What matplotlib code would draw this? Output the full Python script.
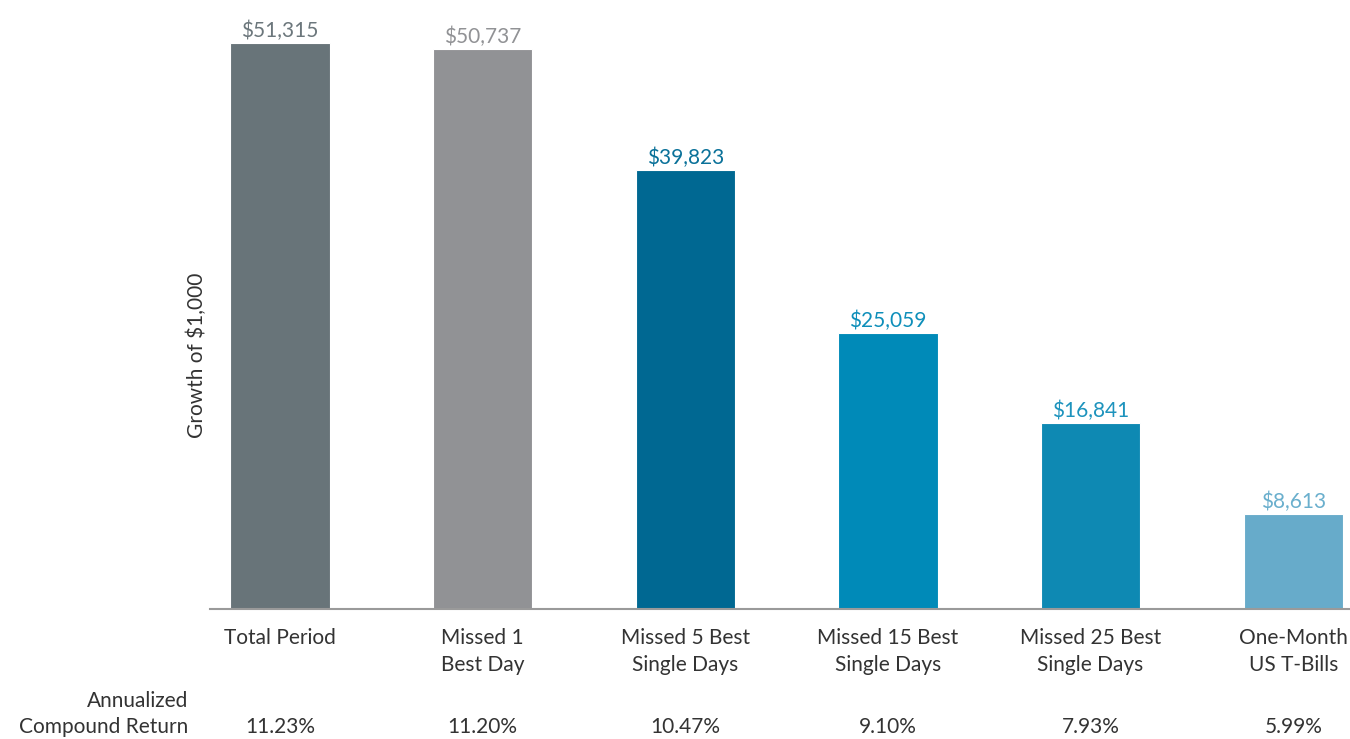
import matplotlib
matplotlib.use("Agg")
import matplotlib.pyplot as plt
from matplotlib.transforms import blended_transform_factory

plt.rcParams['font.family'] = ['Lato', 'DejaVu Sans']

categories = ["Total Period", "Missed 1\nBest Day", "Missed 5 Best\nSingle Days",
              "Missed 15 Best\nSingle Days", "Missed 25 Best\nSingle Days",
              "One-Month\nUS T-Bills"]
growth = [51315, 50737, 39823, 25059, 16841, 8613]
annual_returns = ["11.23%", "11.20%", "10.47%", "9.10%", "7.93%", "5.99%"]

bar_colors = ["#687479", "#919295", "#006892", "#008ab8", "#0e89b3", "#67abca"]
label_colors = ["#6c777c", "#919295", "#0a7199", "#0e8fba", "#1d93bd", "#6aafcd"]
text_color = "#333333"
fs = 15

fig = plt.figure(figsize=(13.5, 7.39), dpi=100)
ax = fig.add_axes([210 / 1350, 1 - 609 / 739, 1 - 210 / 1350, 609 / 739])

x = list(range(len(growth)))
ax.bar(x, growth, width=0.49, color=bar_colors, edgecolor="white", linewidth=0.8)

for xi, v, c in zip(x, growth, label_colors):
    ax.text(xi, v + 150, "\\$" + format(v, ","), ha="center", va="bottom",
            fontsize=fs, color=c)

ax.set_xlim(-0.345, 5.28)
ax.set_ylim(0, 55200)

for s in ["top", "right", "left"]:
    ax.spines[s].set_visible(False)
ax.spines["bottom"].set_color("#9a9a9a")
ax.spines["bottom"].set_linewidth(1.5)

ax.set_yticks([])
ax.set_xticks(x)
ax.set_xticklabels(categories, fontsize=fs, color=text_color, linespacing=1.4)
ax.tick_params(axis="x", length=0, pad=14)

# y label placed where the reference has it
fig.text(197 / 1350, 1 - 355 / 739, "Growth of \\$1,000", rotation=90,
         ha="center", va="center", fontsize=fs, color=text_color)

# annualized compound return row
row = blended_transform_factory(ax.transData, fig.transFigure)
for xi, r in zip(x, annual_returns):
    ax.text(xi, 1 - 727 / 739, r, transform=row, fontsize=fs, color=text_color,
            ha="center", va="center")
fig.text(188 / 1350, 1 - 714 / 739, "Annualized\nCompound Return", ha="right",
         va="center", fontsize=fs, color=text_color, linespacing=1.4)

fig.savefig("out.png", dpi=100)
